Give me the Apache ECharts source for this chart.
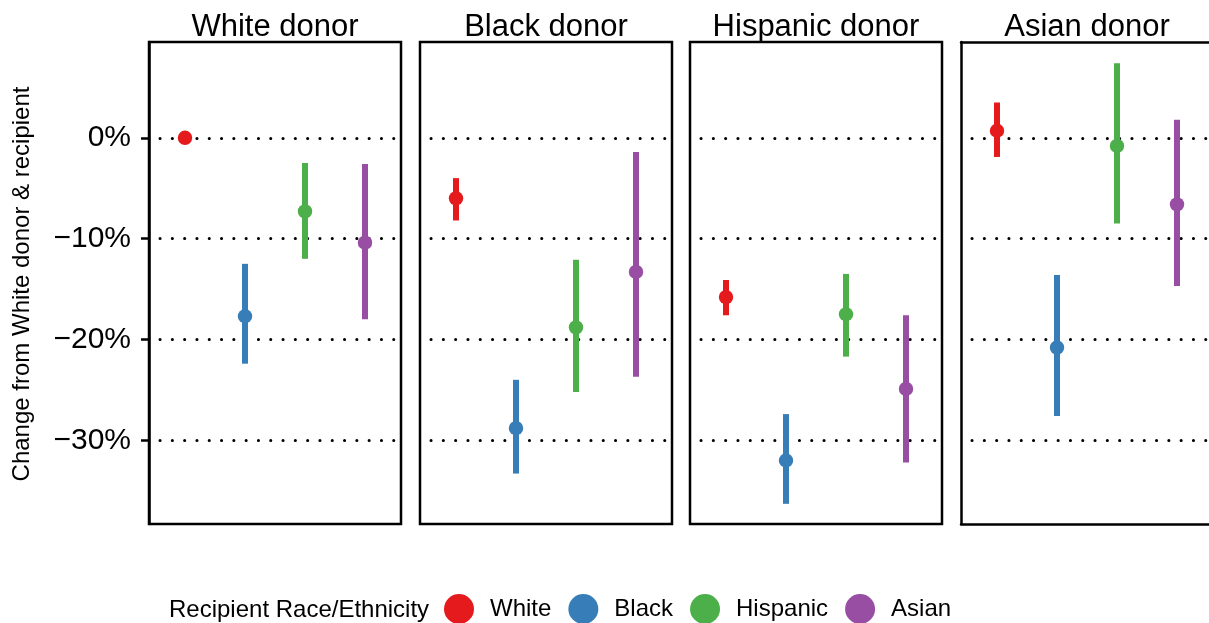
<!DOCTYPE html>
<html><head><meta charset="utf-8">
<script src="https://cdn.jsdelivr.net/npm/echarts@6/dist/echarts.min.js"></script>
<style>html,body{margin:0;padding:0;background:#fff}#c{width:1209px;height:623px}</style>
</head><body><div id="c"></div>
<script>
// ---- data ----
const recipients = ['White', 'Black', 'Hispanic', 'Asian'];
const donors = ['White donor', 'Black donor', 'Hispanic donor', 'Asian donor'];
const yTicks = [0, -10, -20, -30];

const estWhiteDonor = [0, -17.7, -7.3, -10.4];
const loWhiteDonor  = [0, -22.4, -12.0, -18.0];
const hiWhiteDonor  = [0, -12.5, -2.5, -2.6];

const estBlackDonor = [-6.0, -28.8, -18.8, -13.3];
const loBlackDonor  = [-8.2, -33.3, -25.2, -23.7];
const hiBlackDonor  = [-4.0, -24.0, -12.1, -1.4];

const estHispanicDonor = [-15.8, -32.0, -17.5, -24.9];
const loHispanicDonor  = [-17.6, -36.3, -21.7, -32.2];
const hiHispanicDonor  = [-14.1, -27.4, -13.5, -17.6];

const estAsianDonor = [0.7, -20.8, -0.8, -6.6];
const loAsianDonor  = [-1.9, -27.6, -8.5, -14.7];
const hiAsianDonor  = [3.5, -13.6, 7.4, 1.8];

// ---- styling ----
const FONT = "'Liberation Sans', Arial, Helvetica, sans-serif";
const colors = ['#E41A1C', '#377EB8', '#4DAF4A', '#984EA3'];
const panelLefts = [149, 420, 690, 961];
const panelWidths = [252, 252, 252, 248]; // last panel runs off the page edge
const pxPerUnit = 60;
const panelTop = 42;
const panelHeight = 482;
const yMin = -38.3, yMax = 9.5;
const BORDER = 2.5;

const panels = [
  [estWhiteDonor, loWhiteDonor, hiWhiteDonor],
  [estBlackDonor, loBlackDonor, hiBlackDonor],
  [estHispanicDonor, loHispanicDonor, hiHispanicDonor],
  [estAsianDonor, loAsianDonor, hiAsianDonor]
];

const grid = [], xAxis = [], yAxis = [], series = [], graphic = [];
const lineBlack = { color: '#000', width: BORDER };

panels.forEach((p, pi) => {
  const last = pi === panels.length - 1;
  grid.push({
    left: panelLefts[pi], top: panelTop, width: panelWidths[pi], height: panelHeight,
    show: !last, borderColor: '#000', borderWidth: BORDER, backgroundColor: '#fff',
    containLabel: false
  });
  xAxis.push({
    gridIndex: pi, type: 'value', min: 0.4, max: 0.4 + panelWidths[pi] / pxPerUnit,
    show: last, position: 'bottom',
    axisLine: { show: last, onZero: false, lineStyle: lineBlack },
    axisTick: { show: false }, axisLabel: { show: false }, splitLine: { show: false }
  });
  if (last) {
    xAxis.push({
      gridIndex: pi, type: 'value', min: 0.4, max: 0.4 + panelWidths[pi] / pxPerUnit,
      show: true, position: 'top',
      axisLine: { show: true, onZero: false, lineStyle: lineBlack },
      axisTick: { show: false }, axisLabel: { show: false }, splitLine: { show: false }
    });
  }
  yAxis.push({
    gridIndex: pi, type: 'value', min: yMin, max: yMax, splitNumber: 5,
    axisLine: { show: pi === 0 || last, onZero: false, lineStyle: lineBlack },
    axisTick: { show: pi === 0, length: 8, customValues: yTicks, lineStyle: lineBlack },
    axisLabel: {
      show: pi === 0, customValues: yTicks, margin: 18,
      fontFamily: FONT, fontSize: 30, color: '#000',
      formatter: v => (v < 0 ? '\u2212' + Math.abs(v) : v) + '%'
    },
    splitLine: {
      show: true,
      lineStyle: { color: '#000', width: 3, type: [0.1, 12.2], cap: 'round', dashOffset: -11 }
    }
  });
  recipients.forEach((r, ri) => {
    const color = colors[ri];
    series.push({
      type: 'custom', name: r, xAxisIndex: pi, yAxisIndex: pi,
      itemStyle: { color: color },
      data: [[ri + 1, p[0][ri], p[1][ri], p[2][ri]]],
      renderItem: function (params, api) {
        const x = api.value(0);
        const c = api.coord([x, api.value(1)]);
        const lo = api.coord([x, api.value(2)]);
        const hi = api.coord([x, api.value(3)]);
        const children = [];
        if (Math.abs(lo[1] - hi[1]) > 0.5) {
          children.push({ type: 'line', shape: { x1: lo[0], y1: lo[1], x2: hi[0], y2: hi[1] },
            style: { stroke: color, lineWidth: 6 } });
        }
        children.push({ type: 'circle', shape: { cx: c[0], cy: c[1], r: 7.2 }, style: { fill: color } });
        return { type: 'group', children: children };
      }
    });
  });
  graphic.push({
    type: 'text', x: panelLefts[pi] + 126, y: 27,
    style: { text: donors[pi], fontFamily: FONT, fontSize: 31, fill: '#000', align: 'center', verticalAlign: 'middle' }
  });
});

// fix xAxisIndex for series: the extra top axis shifts indexes only after the last panel's bottom axis
series.forEach(s => { /* bottom axis indexes equal panel indexes (extra top axis is appended last) */ });

graphic.push({
  type: 'text', x: 22, y: 284, rotation: Math.PI / 2,
  style: { text: 'Change from White donor & recipient', fontFamily: FONT, fontSize: 24, fill: '#000', align: 'center', verticalAlign: 'middle' }
});
graphic.push({
  type: 'text', x: 169, y: 610,
  style: { text: 'Recipient Race/Ethnicity', fontFamily: FONT, fontSize: 24, fill: '#000', align: 'left', verticalAlign: 'middle' }
});

const option = {
  animation: false,
  backgroundColor: '#fff',
  grid: grid, xAxis: xAxis, yAxis: yAxis, series: series, graphic: graphic,
  legend: {
    data: recipients, left: 444, top: 594, padding: 0,
    icon: 'circle', itemWidth: 30, itemHeight: 30, itemGap: 17, selectedMode: false,
    textStyle: { fontFamily: FONT, fontSize: 24, color: '#000', padding: [0, 0, 0, 11] }
  }
};

const chart = echarts.init(document.getElementById('c'), null, { renderer: 'canvas' });
chart.setOption(option);
</script>
</body></html>
